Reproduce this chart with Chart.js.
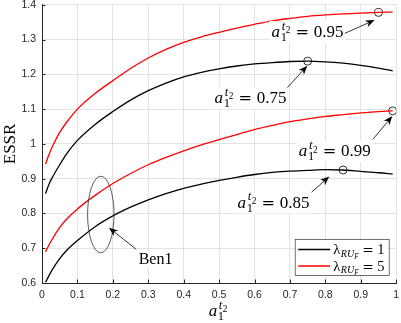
<!DOCTYPE html>
<html>
<head>
<meta charset="utf-8">
<script src="https://cdn.jsdelivr.net/npm/chart.js@4/dist/chart.umd.min.js"></script>
<style>
html,body{margin:0;padding:0;background:#fff;overflow:hidden;}
#wrap{position:relative;width:401px;height:323px;}
</style>
</head>
<body>
<div id="wrap"><canvas id="c"></canvas></div>
<script>
// ---------- data ----------
const xValues = [0.01,0.02,0.03,0.05,0.07,0.1,0.15,0.2,0.25,0.3,0.35,0.4,0.45,0.5,0.55,0.6,0.65,0.7,0.75,0.8,0.85,0.9,0.95,0.99];
const lam1Lower = [0.602,0.622,0.640,0.670,0.694,0.722,0.762,0.793,0.818,0.839,0.857,0.872,0.884,0.895,0.904,0.912,0.918,0.922,0.924,0.926,0.925,0.921,0.917,0.913];
const lam1Upper = [0.857,0.885,0.905,0.940,0.972,1.010,1.056,1.093,1.126,1.153,1.175,1.193,1.206,1.216,1.224,1.230,1.234,1.237,1.238,1.236,1.232,1.226,1.218,1.210];
const lam5Lower = [0.690,0.710,0.728,0.760,0.784,0.813,0.852,0.886,0.915,0.940,0.961,0.980,0.997,1.012,1.027,1.041,1.053,1.064,1.072,1.079,1.084,1.089,1.093,1.095];
const lam5Upper = [0.942,0.970,0.994,1.033,1.063,1.100,1.145,1.182,1.217,1.247,1.272,1.292,1.308,1.321,1.333,1.344,1.354,1.361,1.367,1.371,1.374,1.376,1.378,1.379];
const xTickLabels = ['0','0.1','0.2','0.3','0.4','0.5','0.6','0.7','0.8','0.9','1'];
const yTickLabels = ['0.6','0.7','0.8','0.9','1','1.1','1.2','1.3','1.4'];
const legendValues = ['1','5'];
const optimumX = {lam5Upper:0.95, lam1Upper:0.75, lam5Lower:0.99, lam1Lower:0.85};

// ---------- helpers ----------
const series = {lam1Lower, lam1Upper, lam5Lower, lam5Upper};
const pts = arr => xValues.map((x,i)=>({x, y: arr[i]}));
const optPoints = Object.keys(optimumX).map(k => ({x: optimumX[k], y: series[k][xValues.indexOf(optimumX[k])]}));

const SERIF = '"Liberation Serif", "Times New Roman", serif';
const EQF = '"DejaVu Serif", serif';

// draws a_1^{t_2}; returns end x
function mathA(ctx, x, y, fs, draw) {
  ctx.font = `italic ${fs}px ${SERIF}`;
  if (draw) ctx.fillText('a', x, y);
  x += ctx.measureText('a').width + fs*0.04;
  const s = fs*0.74, ss = fs*0.55;
  ctx.font = `${s}px ${SERIF}`;
  if (draw) ctx.fillText('1', x, y + fs*0.24);
  const w1 = ctx.measureText('1').width;
  ctx.font = `italic ${s}px ${SERIF}`;
  if (draw) ctx.fillText('t', x + fs*0.06, y - fs*0.42);
  const wt = ctx.measureText('t').width + fs*0.06;
  ctx.font = `${ss}px ${SERIF}`;
  if (draw) ctx.fillText('2', x + wt + fs*0.03, y - fs*0.42 + ss*0.35);
  const w2 = ctx.measureText('2').width + fs*0.03;
  return x + Math.max(w1, wt + w2);
}
function eqLabel(ctx, x, y, fs, val, draw) {
  let cx = mathA(ctx, x, y, fs, draw);
  cx += fs*0.3;
  ctx.font = `${fs*0.95}px ${EQF}`;
  if (draw) ctx.fillText('=', cx, y);
  cx += ctx.measureText('=').width + fs*0.28;
  ctx.font = `${fs}px ${SERIF}`;
  if (draw) ctx.fillText(val, cx, y);
  cx += ctx.measureText(val).width;
  return cx;
}
function arrow(ctx, x1, y1, x2, y2) {
  const ang = Math.atan2(y2-y1, x2-x1);
  const L = 9, W = 3.6, back = 6.5;
  ctx.strokeStyle = '#000'; ctx.lineWidth = 0.8;
  ctx.beginPath(); ctx.moveTo(x1,y1);
  ctx.lineTo(x2 - Math.cos(ang)*back, y2 - Math.sin(ang)*back); ctx.stroke();
  ctx.fillStyle = '#000';
  ctx.beginPath();
  ctx.moveTo(x2, y2);
  ctx.lineTo(x2 - L*Math.cos(ang) + W*Math.sin(ang), y2 - L*Math.sin(ang) - W*Math.cos(ang));
  ctx.lineTo(x2 - back*Math.cos(ang), y2 - back*Math.sin(ang));
  ctx.lineTo(x2 - L*Math.cos(ang) - W*Math.sin(ang), y2 - L*Math.sin(ang) + W*Math.cos(ang));
  ctx.closePath(); ctx.fill();
}

// annotations in data coordinates
const notes = [
  {val:'0.95', tx:0.648, ty:1.307, ax:0.855, ay:1.318, hx:0.939, hy:1.356},
  {val:'0.75', tx:0.487, ty:1.117, ax:0.693, ay:1.162, hx:0.749, hy:1.225},
  {val:'0.99', tx:0.725, ty:0.964, ax:0.934, ay:1.013, hx:0.989, hy:1.080},
  {val:'0.85', tx:0.552, ty:0.817, ax:0.761, ay:0.861, hx:0.811, hy:0.906}
];
const ben = {text:'Ben1', tx:0.273, ty:0.654, ax:0.266, ay:0.697, hx:0.189, hy:0.759, ex:0.166, ey:0.797, rx:0.0373, ry:0.110};

const decor = {
  id:'decor',
  afterDatasetsDraw(chart) {
    const ctx = chart.ctx, xs = chart.scales.x, ys = chart.scales.y, a = chart.chartArea;
    ctx.save();
    // inward ticks
    ctx.strokeStyle = '#262626'; ctx.lineWidth = 1;
    ys.ticks.forEach(t => { const p = Math.round(ys.getPixelForValue(t.value)) + 0.5;
      ctx.beginPath(); ctx.moveTo(a.left, p); ctx.lineTo(a.left+3.5, p); ctx.stroke(); });
    xs.ticks.forEach(t => { const p = Math.round(xs.getPixelForValue(t.value)) + 0.5;
      ctx.beginPath(); ctx.moveTo(p, a.bottom); ctx.lineTo(p, a.bottom-3.5); ctx.stroke(); });

    // ellipse
    ctx.strokeStyle = '#333'; ctx.lineWidth = 0.8;
    const ecx = xs.getPixelForValue(ben.ex), ecy = ys.getPixelForValue(ben.ey);
    const erx = xs.getPixelForValue(ben.ex + ben.rx) - ecx, ery = ecy - ys.getPixelForValue(ben.ey + ben.ry);
    ctx.beginPath(); ctx.ellipse(ecx, ecy, erx, ery, 0, 0, Math.PI*2); ctx.stroke();

    // labels
    ctx.textBaseline = 'alphabetic'; ctx.textAlign = 'left';
    const fs = 17;
    notes.forEach(n => {
      const x = xs.getPixelForValue(n.tx), y = ys.getPixelForValue(n.ty);
      const w = eqLabel(ctx, x, y, fs, n.val, false) - x;
      ctx.fillStyle = '#fff'; ctx.fillRect(x-2, y-fs*0.95, w+4, fs*1.3);
      ctx.fillStyle = '#000'; eqLabel(ctx, x, y, fs, n.val, true);
      arrow(ctx, xs.getPixelForValue(n.ax), ys.getPixelForValue(n.ay), xs.getPixelForValue(n.hx), ys.getPixelForValue(n.hy));
    });
    {
      const x = xs.getPixelForValue(ben.tx), y = ys.getPixelForValue(ben.ty);
      ctx.font = `16px ${SERIF}`;
      const w = ctx.measureText(ben.text).width;
      ctx.fillStyle = '#fff'; ctx.fillRect(x-2, y-13, w+4, 17);
      ctx.fillStyle = '#000'; ctx.fillText(ben.text, x, y);
      arrow(ctx, xs.getPixelForValue(ben.ax), ys.getPixelForValue(ben.ay), xs.getPixelForValue(ben.hx), ys.getPixelForValue(ben.hy));
    }

    // axis titles
    ctx.fillStyle = '#000';
    ctx.font = `17px ${SERIF}`;
    ctx.save(); ctx.translate(15, (a.top + a.bottom)/2); ctx.rotate(-Math.PI/2);
    ctx.textAlign = 'center'; ctx.fillText('ESSR', 0, 0); ctx.restore();
    ctx.textAlign = 'left';
    const cxm = (a.left + a.right)/2;
    const wA = mathA(ctx, 0, 0, fs, false);
    mathA(ctx, cxm - wA/2 - 1, 316, fs, true);

    // legend
    const lw = 94, lh = 36;
    const lx = a.right - 7.5 - lw, ly = a.bottom - 8 - lh;
    ctx.fillStyle = '#fff'; ctx.fillRect(lx, ly, lw, lh);
    ctx.strokeStyle = '#333'; ctx.lineWidth = 0.7; ctx.strokeRect(lx+0.5, ly+0.5, lw, lh);
    const lf = 14.5;
    chart.data.datasets.slice(0,2).forEach((ds, i) => {
      const yy = ly + 10.5 + i*16.5;
      ctx.strokeStyle = ds.borderColor; ctx.lineWidth = 1.3;
      ctx.beginPath(); ctx.moveTo(lx+3.5, yy); ctx.lineTo(lx+35.5, yy); ctx.stroke();
      ctx.fillStyle = '#000';
      let tx = lx + 38.5, by = yy + 4.5;
      ctx.font = `${lf}px ${SERIF}`; ctx.fillText('λ', tx, by); tx += ctx.measureText('λ').width + 0.5;
      ctx.font = `italic ${lf*0.7}px ${SERIF}`; ctx.fillText('RU', tx, by + 2.5); tx += ctx.measureText('RU').width;
      ctx.font = `italic ${lf*0.5}px ${SERIF}`; ctx.fillText('F', tx, by + 4.5); tx += ctx.measureText('F').width + 3.5;
      ctx.font = `${lf*0.95}px ${EQF}`; ctx.fillText('=', tx, by); tx += ctx.measureText('=').width + 3.5;
      ctx.font = `${lf}px ${SERIF}`; ctx.fillText(legendValues[i], tx, by);
    });
    ctx.restore();
  }
};

new Chart(document.getElementById('c'), {
  type: 'line',
  data: {
    datasets: [
      {label:'λ=1', data: pts(lam1Lower), borderColor:'#000000'},
      {label:'λ=5', data: pts(lam5Lower), borderColor:'#ff0000'},
      {label:'λ=1b', data: pts(lam1Upper), borderColor:'#000000'},
      {label:'λ=5b', data: pts(lam5Upper), borderColor:'#ff0000'},
      {label:'opt', data: optPoints, showLine:false, pointRadius:4, pointStyle:'circle',
       borderColor:'#000', backgroundColor:'rgba(0,0,0,0)', pointBorderWidth:0.8}
    ].map(d => Object.assign({borderWidth:1.3, pointRadius:0, fill:false, cubicInterpolationMode:'monotone'}, d))
  },
  options: {
    responsive: true, maintainAspectRatio: false, animation: false, devicePixelRatio: 1,
    layout: {padding: {top: 3, right: 2, bottom: 0, left: 0}},
    plugins: {legend: {display:false}, tooltip: {enabled:false}},
    scales: {
      x: {type:'linear', min:0, max:1,
          ticks:{stepSize:0.1, padding:6, color:'#262626', font:{family:'"Liberation Sans", Arial, sans-serif', size:10.5},
                 callback:(v)=>xTickLabels[Math.round(v*10)], maxRotation:0, autoSkip:false},
          grid:{color:'#e3e3e3', drawTicks:false, lineWidth:1},
          border:{display:true, color:'#262626', width:1},
          afterFit:(s)=>{ s.height = 40; s.paddingLeft = 0; s.paddingRight = 0; }},
      y: {type:'linear', min:0.6, max:1.4,
          ticks:{stepSize:0.1, padding:6, color:'#262626', font:{family:'"Liberation Sans", Arial, sans-serif', size:10.5},
                 callback:(v)=>yTickLabels[Math.round(v*10)-6], autoSkip:false},
          grid:{color:'#e3e3e3', drawTicks:false, lineWidth:1},
          border:{display:true, color:'#262626', width:1},
          afterFit:(s)=>{ s.width = 42; s.paddingTop = 0; s.paddingBottom = 0; }}
    }
  },
  plugins: [decor]
});
</script>
</body>
</html>
